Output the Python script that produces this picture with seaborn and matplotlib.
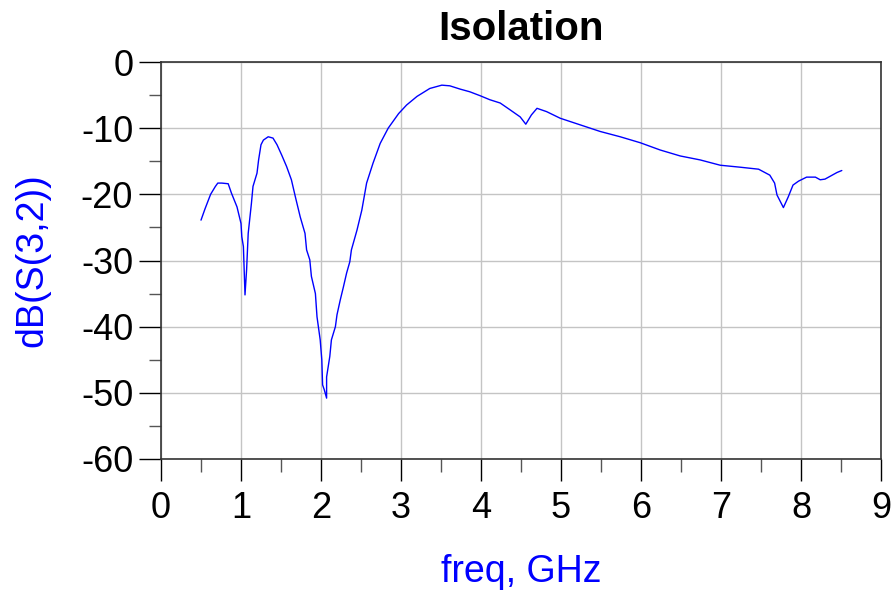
import numpy as np
import pandas as pd
import matplotlib
matplotlib.use('Agg')
import matplotlib.pyplot as plt
import seaborn as sns
from matplotlib.ticker import MultipleLocator

# S(3,2) isolation trace
freq_ghz = [0.50, 0.55, 0.62, 0.68, 0.71, 0.76, 0.84, 0.88, 0.95, 1.00, 1.01, 1.03,
            1.05, 1.07, 1.09, 1.13, 1.15, 1.20, 1.22, 1.25, 1.28, 1.34, 1.40, 1.45,
            1.51, 1.57, 1.63, 1.68, 1.74, 1.80, 1.82, 1.86, 1.88, 1.93, 1.95, 1.99,
            2.01, 2.02, 2.04, 2.07, 2.07, 2.11, 2.13, 2.18, 2.20, 2.24, 2.28, 2.32,
            2.36, 2.38, 2.45, 2.51, 2.57, 2.65, 2.74, 2.84, 2.97, 3.07, 3.20, 3.36,
            3.51, 3.61, 3.74, 3.86, 3.99, 4.11, 4.24, 4.36, 4.49, 4.56, 4.63, 4.70,
            4.82, 4.99, 5.24, 5.49, 5.74, 5.99, 6.24, 6.49, 6.74, 6.99, 7.24, 7.47,
            7.61, 7.67, 7.70, 7.78, 7.84, 7.90, 7.97, 8.07, 8.18, 8.24, 8.30, 8.36,
            8.45, 8.51]
s32_db = [-23.9, -22.2, -20.0, -18.8, -18.3, -18.3, -18.4, -19.8, -21.9, -24.4, -26.4, -27.9,
          -35.2, -31.4, -25.9, -21.4, -18.8, -16.8, -14.8, -12.5, -11.8, -11.3, -11.5, -12.5,
          -14.1, -15.8, -17.8, -20.4, -23.4, -25.9, -28.4, -29.9, -32.4, -35.0, -38.5, -42.0,
          -45.0, -48.8, -49.5, -50.8, -47.6, -44.5, -42.0, -40.0, -38.2, -36.0, -34.0, -31.9,
          -30.2, -28.4, -25.4, -22.4, -18.3, -15.3, -12.3, -10.0, -7.8, -6.5, -5.2, -4.0,
          -3.5, -3.6, -4.1, -4.5, -5.1, -5.7, -6.2, -7.2, -8.3, -9.4, -8.0, -7.0,
          -7.5, -8.5, -9.5, -10.5, -11.3, -12.2, -13.3, -14.2, -14.8, -15.6, -15.9, -16.2,
          -17.1, -18.3, -20.1, -22.0, -20.4, -18.6, -18.0, -17.4, -17.4, -17.8, -17.7, -17.3,
          -16.7, -16.4]

x_ticks = list(range(0, 10))
y_ticks = list(range(-60, 1, 10))

sns.set_style('white')
plt.rcParams['font.family'] = ['Liberation Sans', 'DejaVu Sans']
plt.rcParams['axes.unicode_minus'] = False

fig = plt.figure(figsize=(8.94, 5.95), dpi=100)
ax = fig.add_axes([161 / 894, 1 - 459 / 595, 720 / 894, 397 / 595])

df = pd.DataFrame({'freq': freq_ghz, 'db': s32_db})
sns.lineplot(data=df, x='freq', y='db', ax=ax, sort=False, color='#0000ff',
             linewidth=1.0, estimator=None)

ax.set_xlim(0, 9)
ax.set_ylim(-60, 0)
ax.set_xticks(x_ticks)
ax.set_yticks(y_ticks)
ax.xaxis.set_minor_locator(MultipleLocator(0.5))
ax.yaxis.set_minor_locator(MultipleLocator(5))
ax.tick_params(which='major', direction='out', length=16, width=1, color='black',
               labelsize=26, labelcolor='black')
ax.tick_params(axis='y', which='major', pad=4)
ax.tick_params(axis='x', which='major', pad=7)
ax.tick_params(which='minor', direction='out', length=9, width=1, color='#555555')
ax.tick_params(axis='x', which='both', bottom=True)
ax.tick_params(axis='y', which='both', left=True)

ax.grid(True, which='major', color='#c4c4c4', linewidth=1.0)
for side in ax.spines.values():
    side.set_color('#333333')
    side.set_linewidth(1.2)

ax.set_title('Isolation', fontsize=29, fontweight='bold', color='black', pad=16)
ax.set_xlabel('freq, GHz', fontsize=27, color='#0000ff', labelpad=20)
ax.set_ylabel('dB(S(3,2))', fontsize=27, color='#0000ff', labelpad=22)

fig.savefig('out.png', dpi=100)
